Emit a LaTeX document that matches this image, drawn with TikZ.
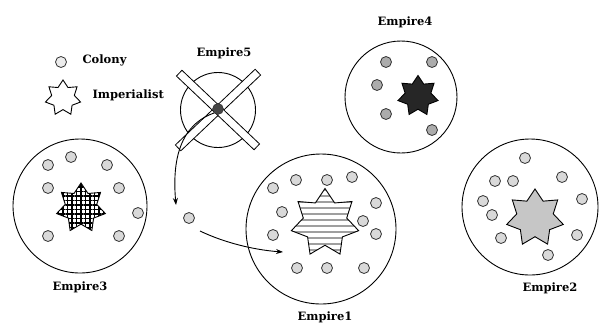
\documentclass[tikz,border=0pt]{standalone}
\usepackage{fontspec}
\setmainfont{DejaVu Serif}
\usetikzlibrary{shapes.geometric,arrows.meta,patterns.meta}
\tikzset{
  empire/.style={circle, draw, line width=0.9pt, inner sep=0pt},
  colony/.style={circle, draw=gray!40!black, fill=gray!30, line width=0.8pt, minimum size=11pt, inner sep=0pt},
  darkcol/.style={colony, fill=gray!65},
  impstar/.style={star, star points=7, star point ratio=1.55, draw, line width=0.9pt, inner sep=0pt},
  lbl/.style={font=\fontsize{11.5}{13}\selectfont\bfseries},
  bar/.style={rectangle, draw, fill=white, line width=0.8pt, minimum width=110pt, minimum height=8pt, inner sep=0pt},
  move/.style={line width=0.9pt, -{Stealth[length=7pt,width=5pt]}}
}
\begin{document}
\begin{tikzpicture}[x=1pt,y=-1pt]
  \useasboundingbox (0,0) rectangle (601,322);
  % legend
  \node[colony, fill=gray!15] (legcol) at (61,62) {};
  \node[lbl, anchor=west] (legcoltxt) at (79,60) {Colony};
  \node[impstar, minimum size=36pt] (legimp) at (63,98) {};
  \node[lbl, anchor=west] (legimptxt) at (89,95) {Imperialist};
  % Empire5 (collapsed)
  \node[empire, minimum size=75pt] (e5) at (218,110) {};
  \node[bar, rotate=43.5] (e5bara) at (218,110) {};
  \node[bar, rotate=-43.5, minimum width=107pt] (e5barb) at (218,110) {};
  \node[circle, draw=gray!30!black, fill=gray!55!black, minimum size=11pt, inner sep=0pt] (e5dot) at (218,109) {};
  \node[lbl] (e5lbl) at (224,53) {Empire5};
  % Empire4
  \node[empire, minimum size=112pt] (e4) at (401,97) {};
  \foreach \cx/\cy in {386/62, 432/62, 377/85, 386/114, 432/130}
    \node[darkcol] at (\cx,\cy) {};
  \node[impstar, fill=black!85, minimum size=41pt] (e4imp) at (418,96) {};
  \node[lbl] (e4lbl) at (405,22) {Empire4};
  % Empire3
  \node[empire, minimum size=134pt] (e3) at (80,206) {};
  \foreach \cx/\cy in {48/165, 71/157, 107/165, 48/188, 119/188, 138/213, 48/236, 119/236}
    \node[colony] at (\cx,\cy) {};
  \node[impstar, pattern={Hatch[distance=4.5pt,line width=1.4pt]}, minimum size=50pt] (e3imp) at (81,208) {};
  \node[lbl] (e3lbl) at (80,287) {Empire3};
  % Empire1
  \node[empire, minimum size=150pt] (e1) at (321,229) {};
  \foreach \cx/\cy in {273/188, 296/180, 327/180, 352/177, 376/203, 282/212, 376/234, 273/235, 297/268, 327/268, 364/268}
    \node[colony] at (\cx,\cy) {};
  \node[impstar, pattern={Lines[angle=0,distance=6pt,line width=1.5pt]}, pattern color=gray!75, minimum size=69pt] (e1imp) at (325,223) {};
  \node[colony] at (363,221) {};
  \node[lbl] (e1lbl) at (325,317) {Empire1};
  % Empire2
  \node[empire, minimum size=136pt] (e2) at (530,207) {};
  \foreach \cx/\cy in {525/158, 495/181, 513/181, 562/177, 483/201, 582/199, 492/215, 501/238, 577/235, 548/255}
    \node[colony] at (\cx,\cy) {};
  \node[impstar, fill=gray!45, minimum size=58pt] (e2imp) at (535,218) {};
  \node[lbl] (e2lbl) at (550,288) {Empire2};
  % moving colony
  \node[colony] (loose) at (189,218) {};
  \coordinate (e1in) at (283,252);
  \draw[move] (e5dot.south west) .. controls (180,125) and (172,160) .. ([shift={(-13,-13)}]loose.center);
  \draw[move] ([shift={(11,13)}]loose.center) .. controls (225,243) and (255,250) .. (e1in);
\end{tikzpicture}
\end{document}
